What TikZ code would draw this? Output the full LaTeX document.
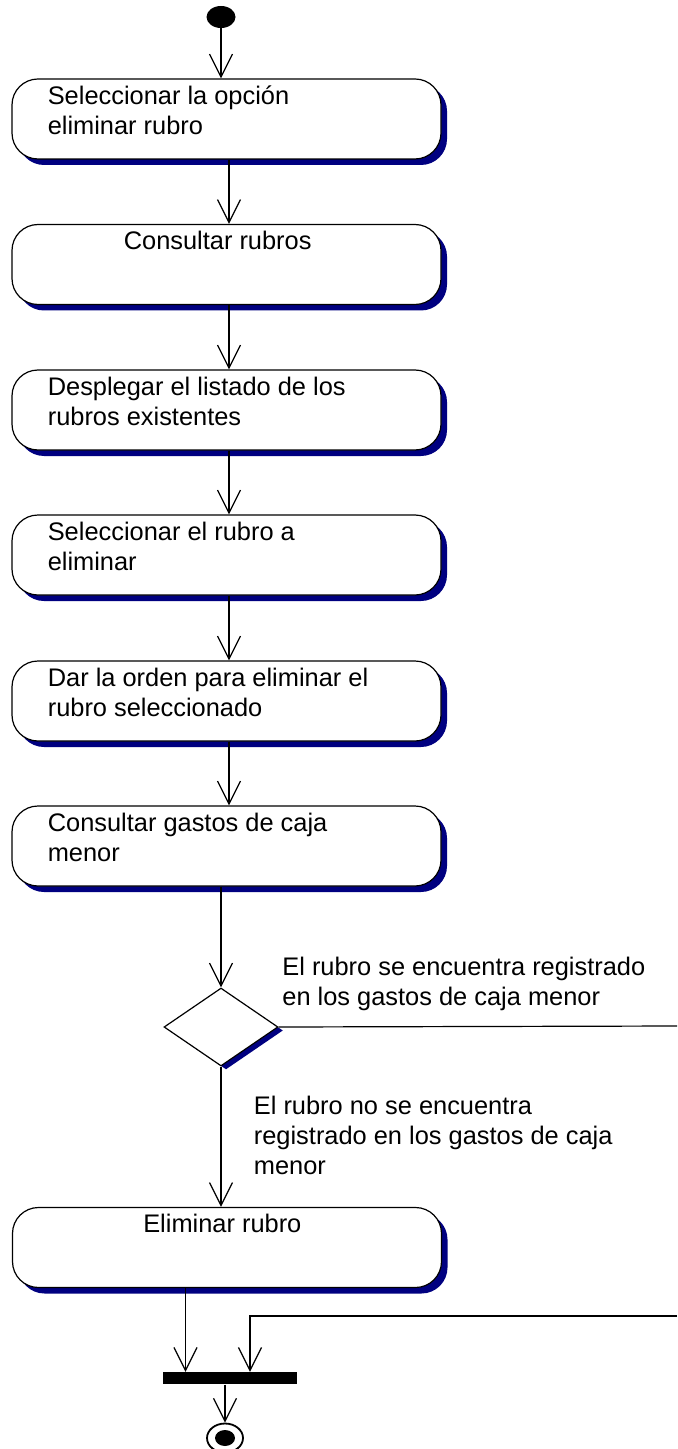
\documentclass[tikz,border=0pt]{standalone}
\usepackage{fontspec}
\setmainfont{Liberation Sans}
\usetikzlibrary{arrows.meta,shapes.geometric,shadows}
\definecolor{navy}{RGB}{0,0,128}

\begin{document}
\begin{tikzpicture}[x=0.5pt, y=-0.5pt, >={Straight Barb[length=11.5pt,width=11.5pt]},
  font=\fontsize{12.7}{15}\selectfont,
  act/.style={draw, fill=white, line width=0.6pt, rounded corners=13pt,
    minimum width=214.5pt, minimum height=40pt, inner sep=0pt,
    drop shadow={shadow xshift=3pt, shadow yshift=-3pt, fill=navy, opacity=1}},
  lbl/.style={anchor=north west, inner sep=0pt, align=left, xshift=18pt, yshift=-3.5pt},
  guard/.style={anchor=north west, inner sep=0pt, align=left},
  flow/.style={->, line width=0.6pt},
  wire/.style={line width=0.6pt}]
  \useasboundingbox (0,0) rectangle (677,1449);
  % start and the actions
  \node[ellipse, fill, minimum width=14.5pt, minimum height=11pt, inner sep=0pt] (start) at (221,17) {};
  \node[act, label={[lbl]north west:Seleccionar la opción\\eliminar rubro}] (a1) at (226.5,119) {};
  \node[act, label={[lbl, xshift=38pt]north west:Consultar rubros}] (a2) at (226.5,264.5) {};
  \node[act, label={[lbl]north west:Desplegar el listado de los\\rubros existentes}] (a3) at (226.5,410) {};
  \node[act, label={[lbl]north west:Seleccionar el rubro a\\eliminar}] (a4) at (226.5,555) {};
  \node[act, label={[lbl]north west:Dar la orden para eliminar el\\rubro seleccionado}] (a5) at (226.5,701) {};
  \node[act, label={[lbl]north west:Consultar gastos de caja\\menor}] (a6) at (226.5,846) {};
  % decision
  \node[diamond, draw, fill=white, line width=0.6pt, minimum width=57pt, minimum height=39pt, inner sep=0pt,
    drop shadow={shadow xshift=2.5pt, shadow yshift=-1.75pt, fill=navy, opacity=1}] (dec) at (221,1027) {};
  \node[guard] (g1) at (282,956.5) {El rubro se encuentra registrado\\en los gastos de caja menor};
  \node[guard] (g2) at (253.5,1096) {El rubro no se encuentra\\registrado en los gastos de caja\\menor};
  \node[act, label={[lbl, xshift=47.5pt]north west:Eliminar rubro}] (a7) at (227,1247.5) {};
  % join bar and end
  \node[fill, minimum width=67pt, minimum height=6.2pt, inner sep=0pt] (bar) at (230,1378) {};
  \node[ellipse, draw, fill=white, line width=0.9pt, minimum width=18pt, minimum height=14.5pt, inner sep=0pt] (fin) at (225,1438) {};
  \fill (fin.center) ellipse (5pt and 4pt);
  \coordinate (colA) at (229,0);
  \coordinate (inL) at (185.5,1371.8);
  \coordinate (inR) at (250,1371.8);
  \coordinate (outA) at (677,1026);
  \coordinate (outB) at (677,1316);
  % connectors
  \draw[flow] (start) -- (start |- a1.north);
  \draw[flow] (a1.south -| colA) -- (a2.north -| colA);
  \draw[flow] (a2.south -| colA) -- (a3.north -| colA);
  \draw[flow] (a3.south -| colA) -- (a4.north -| colA);
  \draw[flow] (a4.south -| colA) -- (a5.north -| colA);
  \draw[flow] (a5.south -| colA) -- (a6.north -| colA);
  \draw[flow] (a6.south -| dec) -- (dec.north);
  \draw[flow] (dec.south) -- (a7.north -| dec);
  \draw[wire] (dec.east) -- (outA);
  \draw[flow] (a7.south -| inL) -- (inL);
  \draw[flow] (outB) -| (inR);
  \draw[flow] (bar.south -| fin) -- (fin.north);
\end{tikzpicture}
\end{document}
